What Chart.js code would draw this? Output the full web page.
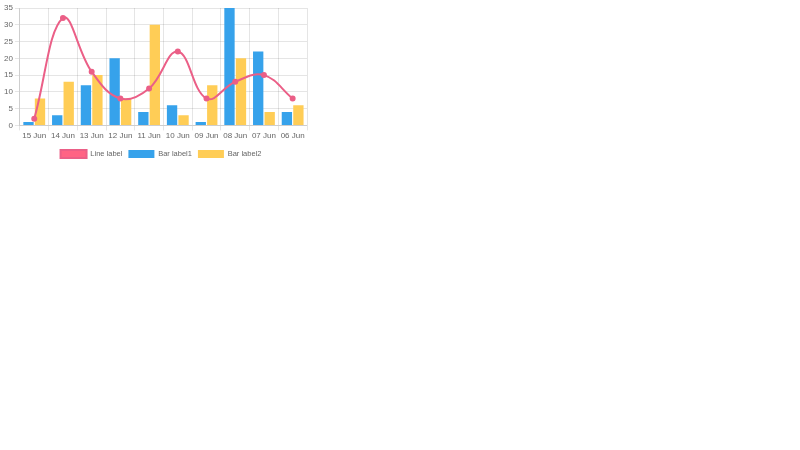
<!DOCTYPE html>
<html>
<head>
<meta charset="utf-8">
<script src="https://cdn.jsdelivr.net/npm/chart.js@4"></script>
<style>
  html, body { margin: 0; padding: 0; background: #fff; }
  #wrap { position: relative; width: 320px; height: 168px; }
</style>
</head>
<body>
<div id="wrap"><canvas id="c"></canvas></div>
<script>
const categories = ['15 Jun', '14 Jun', '13 Jun', '12 Jun', '11 Jun', '10 Jun', '09 Jun', '08 Jun', '07 Jun', '06 Jun'];
const lineValues = [2, 32, 16, 8, 11, 22, 8, 13, 15, 8];
const bar1Values = [1, 3, 12, 20, 4, 6, 1, 35, 22, 4];
const bar2Values = [8, 13, 15, 8, 30, 3, 12, 20, 4, 6];
const yTicks = { min: 0, max: 35, step: 5 };

Chart.defaults.font.family = '"Helvetica Neue", Helvetica, Arial, "Liberation Sans", sans-serif';
Chart.defaults.font.size = 8;
Chart.defaults.color = '#666';

new Chart(document.getElementById('c'), {
  data: {
    labels: categories,
    datasets: [
      {
        type: 'line',
        label: 'Line label',
        data: lineValues,
        borderColor: 'rgb(235, 95, 135)',
        backgroundColor: 'rgb(255, 99, 132)',
        pointBackgroundColor: 'rgb(235, 95, 135)',
        pointBorderColor: 'rgb(235, 95, 135)',
        borderWidth: 2,
        pointRadius: 2,
        tension: 0.4,
        fill: false
      },
      {
        type: 'bar',
        label: 'Bar label1',
        data: bar1Values,
        backgroundColor: 'rgb(54, 162, 235)',
        borderWidth: 0
      },
      {
        type: 'bar',
        label: 'Bar label2',
        data: bar2Values,
        backgroundColor: 'rgb(255, 205, 86)',
        borderWidth: 0
      }
    ]
  },
  options: {
    responsive: true,
    maintainAspectRatio: false,
    animation: false,
    layout: { padding: { top: 8, left: 2 } },
    plugins: {
      legend: {
        position: 'bottom',
        labels: { boxWidth: 26, boxHeight: 8, padding: 6, font: { size: 7.5 } }
      },
      tooltip: { enabled: false }
    },
    scales: {
      x: {
        offset: true,
        grid: { offset: true, color: 'rgba(0,0,0,0.1)', tickLength: 5 },
        ticks: { padding: 1, maxRotation: 0, autoSkip: false },
        afterFit: function (s) { s.height += 2; }
      },
      y: {
        min: yTicks.min,
        max: yTicks.max,
        grid: { color: 'rgba(0,0,0,0.1)', tickLength: 5 },
        ticks: { stepSize: yTicks.step, padding: 2 }
      },
      spacer: {
        type: 'linear',
        position: 'right',
        display: true,
        grid: { display: false, drawTicks: false },
        border: { display: false },
        ticks: { display: false },
        afterFit: function (s) { s.width = 13; }
      }
    }
  }
});
</script>
</body>
</html>
